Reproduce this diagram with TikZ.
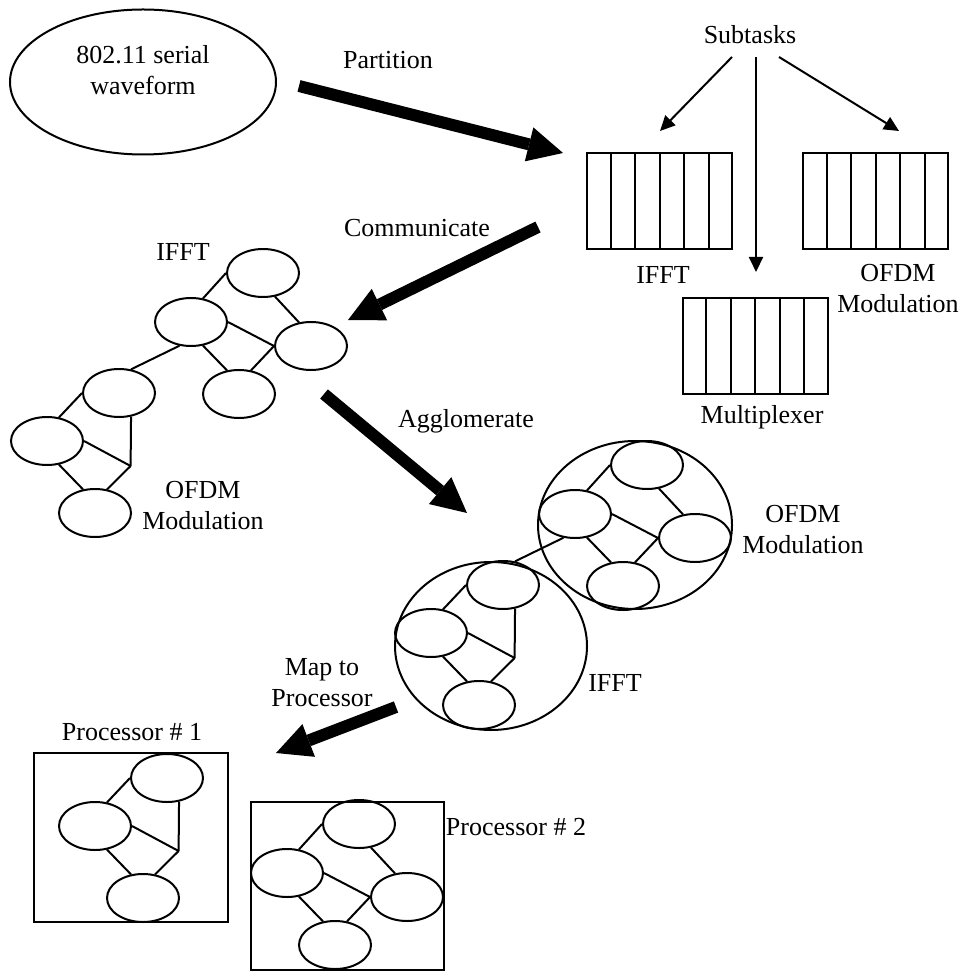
\documentclass[tikz,border=0pt]{standalone}
\usepackage{fontspec}
\setmainfont{Liberation Serif}
\usetikzlibrary{shapes.geometric,arrows.meta,calc}

% A task graph of four ellipses: top (a), left (b), right (c), bottom (d)
\tikzset{
  diamondgroup/.pic={
    \node[blob] (-b) at (0,0) {};
    \node[blob] (-a) at (72,-49) {};
    \node[blob] (-c) at (120,24) {};
    \node[blob] (-d) at (48,72) {};
    \draw[wire] (-b.63) -- (-a.west);
    \draw[wire] (-a.-63) -- (-c.117);
    \draw[wire] (-b.east) -- (-c.west);
    \draw[wire] (-b.-63) -- (-d.117);
    \draw[wire] (-d.63) -- (-c.west);
  },
  % three ellipses whose edges meet in a junction point (j)
  junctiongroup/.pic={
    \node[blob] (-b) at (0,0) {};
    \node[blob] (-a) at (72,-48) {};
    \node[blob] (-d) at (48,72) {};
    \coordinate (-j) at (83.6,25);
    \draw[wire] (-b.63) -- (-a.west);
    \draw[wire] (-a.-63) -- (-j);
    \draw[wire] (-b.east) -- (-j);
    \draw[wire] (-b.-63) -- (-d.117);
    \draw[wire] (-d.63) -- (-j);
  },
}

\begin{document}
\begin{tikzpicture}[x=0.5pt,y=-0.5pt,
  wire/.style={line width=1pt},
  blob/.style={ellipse,draw,line width=1pt,minimum width=36pt,minimum height=24pt,inner sep=0pt},
  ring/.style={ellipse,draw,line width=1pt,inner sep=0pt},
  taskbox/.style={rectangle,draw,line width=1pt,minimum width=72.5pt,minimum height=48pt,inner sep=0pt},
  procbox/.style={rectangle,draw,line width=1pt,inner sep=0pt},
  lbl/.style={font=\fontsize{13}{15.5}\selectfont,align=center,inner sep=0pt},
  bigarrow/.style={line width=6pt,-{Triangle[length=17.5pt,width=17.5pt,line width=0pt]}},
  smallarrow/.style={line width=1pt,-{Triangle[length=7.5pt,width=7pt]}},
]
\useasboundingbox (0,0) rectangle (965,972);

% serial waveform
\node[ring,minimum width=133pt,minimum height=72.5pt] (wave) at (143,82) {};
\node[lbl] (wavetext) at (143,70) {802.11 serial\\waveform};

% partition step
\node[lbl] (partlbl) at (388,60) {Partition};
\coordinate (partfrom) at (299,86);
\coordinate (partto) at (563,153);
\draw[bigarrow] (partfrom) -- (partto);

% subtasks
\node[lbl] (subtasks) at (750,35) {Subtasks};
\coordinate (sub1) at (732,57);
\coordinate (sub2) at (756,57);
\coordinate (sub3) at (779,57);
\coordinate (tip1) at (660,131);
\coordinate (tip2) at (756,272);
\coordinate (tip3) at (899,131);
\draw[smallarrow] (sub1) -- (tip1);
\draw[smallarrow] (sub2) -- (tip2);
\draw[smallarrow] (sub3) -- (tip3);

\node[taskbox] (ifftbox) at (659.5,201) {};
\node[taskbox] (ofdmbox) at (875.5,201) {};
\node[taskbox] (muxbox) at (755,346) {};
\foreach \bx in {ifftbox,ofdmbox,muxbox}{
  \foreach \i in {1,...,5}{
    \draw[wire] ($(\bx.north west)!\i/6!(\bx.north east)$) -- ($(\bx.south west)!\i/6!(\bx.south east)$);
  }
}
\node[lbl] (iffttask) at (663,275) {IFFT};
\node[lbl] (ofdmtask) at (898,289) {OFDM\\Modulation};
\node[lbl] (muxtask) at (762,417) {Multiplexer};

% communicate step
\node[lbl] (commlbl) at (417,228) {Communicate};
\coordinate (commfrom) at (538,227);
\coordinate (commto) at (348,320);
\draw[bigarrow] (commfrom) -- (commto);

\pic (lg) at (191,322) {diamondgroup};
\pic (lo) at (47,441) {junctiongroup};
\draw[wire] (lg-b.-116) -- (lo-a.63);
\node[lbl] (lgname) at (183,252) {IFFT};
\node[lbl] (loname) at (203,506) {OFDM\\Modulation};

% agglomerate step
\node[lbl] (agglbl) at (466,421) {Agglomerate};
\coordinate (aggfrom) at (324,394);
\coordinate (aggto) at (467,513);
\draw[bigarrow] (aggfrom) -- (aggto);

\node[ring,minimum width=97pt,minimum height=84pt] (aoring) at (635,525) {};
\node[ring,minimum width=96pt,minimum height=84pt] (airing) at (491,646) {};
\pic (ao) at (575,514) {diamondgroup};
\pic (ai) at (431,633) {junctiongroup};
\draw[wire] (ao-b.-116) -- (ai-a.63);
\node[lbl] (aoname) at (803,530) {OFDM\\Modulation};
\node[lbl] (ainame) at (615,683) {IFFT};

% mapping step
\node[lbl] (maplbl) at (322,683) {Map to\\Processor};
\coordinate (mapfrom) at (396,707);
\coordinate (mapto) at (276,753);
\draw[bigarrow] (mapfrom) -- (mapto);

\node[procbox,minimum width=97pt,minimum height=84.5pt] (p1box) at (131,837.5) {};
\pic (p1) at (95,826) {junctiongroup};
\node[lbl] (p1name) at (132,732) {Processor \# 1};

\node[procbox,minimum width=96.5pt,minimum height=84pt] (p2box) at (347.5,886) {};
\pic (p2) at (287,873) {diamondgroup};
\node[lbl] (p2name) at (516,827) {Processor \# 2};
\end{tikzpicture}
\end{document}
